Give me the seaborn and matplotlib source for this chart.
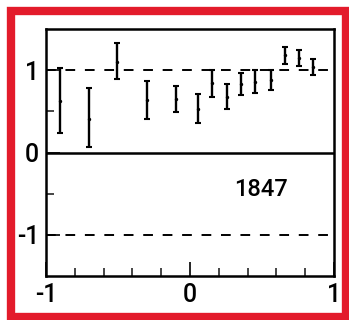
import matplotlib
matplotlib.use("Agg")
import matplotlib.pyplot as plt
import seaborn as sns
import numpy as np
import pandas as pd
from matplotlib.patches import Rectangle

# data
x_pos  = [-0.905, -0.70, -0.505, -0.30, -0.098, 0.054, 0.15, 0.257, 0.357, 0.45, 0.56, 0.66, 0.76, 0.854]
y_low  = [0.24, 0.07, 0.89, 0.41, 0.49, 0.36, 0.68, 0.53, 0.70, 0.72, 0.76, 1.08, 1.05, 0.94]
y_high = [1.03, 0.78, 1.33, 0.87, 0.81, 0.71, 1.00, 0.83, 0.97, 1.00, 1.00, 1.28, 1.25, 1.14]
y_mid  = [0.63, 0.41, 1.10, 0.64, 0.65, 0.53, 0.84, 0.68, 0.83, 0.86, 0.88, 1.18, 1.15, 1.04]
ref_levels = [1, -1]
label_text = "1847"

df = pd.DataFrame({"x": x_pos, "lo": y_low, "hi": y_high, "y": y_mid})

sns.set_style("white")
plt.rcParams['font.family'] = ['Roboto', 'DejaVu Sans']
plt.rcParams['font.weight'] = 500

fig = plt.figure(figsize=(3.49, 3.20), dpi=100)
ax = fig.add_axes([46/349, 44/320, 288/349, 247/320])

# error bars
yerr = np.vstack([df["y"] - df["lo"], df["hi"] - df["y"]])
ax.errorbar(df["x"], df["y"], yerr=yerr, fmt="none", ecolor="black",
            elinewidth=1.7, capsize=2.2, capthick=1.5, zorder=3)
sns.scatterplot(data=df, x="x", y="y", ax=ax, color="black", s=6,
                edgecolor="black", linewidth=0, zorder=4, legend=False)

# reference lines
for lv in ref_levels:
    ax.axhline(lv, color="black", lw=1.4, ls=(0, (5, 5)), zorder=2)
ax.axhline(0, color="black", lw=1.8, zorder=2)

ax.set_xlim(-1, 1)
ax.set_ylim(-1.5, 1.5)
ax.set_xticks([-1, 0, 1])
ax.set_xticklabels(["-1", "0", "1"])
ax.set_yticks([-1, 0, 1])
ax.set_yticklabels(["-1", "0", "1"])
ax.set_xticks([-0.8, -0.6, -0.4, -0.2, 0.2, 0.4, 0.6, 0.8], minor=True)
ax.set_yticks([-0.5, 0.5], minor=True)
ax.tick_params(axis="both", which="major", direction="in", length=10, width=1.2,
               labelsize=18, pad=5, colors="black", bottom=True, left=True)
ax.tick_params(axis="both", which="minor", direction="in", length=6, width=1.2,
               bottom=True, left=True)
ax.set_xlabel("")
ax.set_ylabel("")
for sp in ax.spines.values():
    sp.set_visible(True)
    sp.set_color("black")
    sp.set_linewidth(1.8)

ax.text(0.49, -0.45, label_text, fontsize=17, fontweight=500, ha="center", va="center", color="black")

# red frame around figure
fig.patches.append(Rectangle((11/349, 3/320), 335/349, 306/320, transform=fig.transFigure,
                             fill=False, edgecolor="#e31b2b", linewidth=6, zorder=10))

fig.savefig("out.png", dpi=100)
